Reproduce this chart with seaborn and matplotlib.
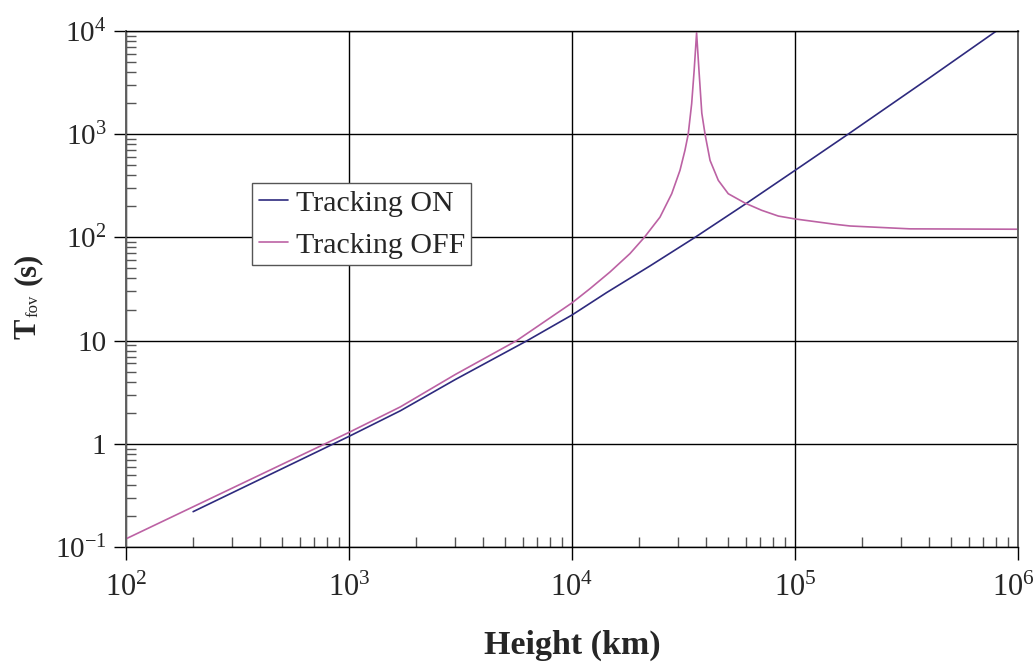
import numpy as np
import pandas as pd
import matplotlib
matplotlib.use("Agg")
import matplotlib.pyplot as plt
import matplotlib.transforms as mtransforms
import seaborn as sns
from matplotlib.ticker import FixedLocator, FixedFormatter, NullFormatter

# ---- data ----
H_on = [200, 1000, 1700, 3000, 6300, 10000, 14300, 22400, 35600, 60800,
        100000, 173000, 400000, 800000, 1000000]
T_on = [0.22, 1.18, 2.09, 4.2, 10, 17.7, 29.2, 53, 100, 215,
        446, 1000, 3500, 10000, 14400]

H_off = [100, 1000, 1700, 3000, 5650, 10000, 12050, 14800, 18200, 21100,
         24800, 28000, 30500, 32100, 33200, 34400, 35300, 36200, 37100,
         38200, 39500, 41600, 45300, 50200, 59700, 70900, 84200, 100000,
         151000, 176600, 328000, 1000000]
T_off = [0.12, 1.29, 2.28, 4.7, 10, 23.2, 31.9, 46.2, 69.7, 100,
         157, 265, 447, 697, 1000, 1970, 4150, 9600, 4150,
         1600, 1000, 557, 357, 265, 215, 183, 161, 151,
         134, 129, 121, 120]

series_names = ["Tracking ON", "Tracking OFF"]
x_ticks = [1e2, 1e3, 1e4, 1e5, 1e6]
x_ticklabels = ["$10^{2}$", "$10^{3}$", "$10^{4}$", "$10^{5}$", "$10^{6}$"]
y_ticks = [1e-1, 1, 10, 1e2, 1e3, 1e4]
y_ticklabels = ["$10^{-1}$", "1", "10", "$10^{2}$", "$10^{3}$", "$10^{4}$"]
x_label = "Height (km)"
y_label_parts = ["T", "fov", "(s)"]

df = pd.concat([
    pd.DataFrame({"Height": H_on, "T": T_on, "Mode": series_names[0]}),
    pd.DataFrame({"Height": H_off, "T": T_off, "Mode": series_names[1]}),
], ignore_index=True)

sns.set_style("white")
plt.rcParams["font.family"] = ["Liberation Serif", "DejaVu Serif"]
plt.rcParams["mathtext.fontset"] = "custom"
plt.rcParams["mathtext.rm"] = "Liberation Serif"
plt.rcParams["mathtext.it"] = "Liberation Serif:italic"
plt.rcParams["mathtext.bf"] = "Liberation Serif:bold"

W, Hpx = 1036, 662
fig = plt.figure(figsize=(W / 100, Hpx / 100), dpi=100)
ax = fig.add_axes([126 / W, 1 - 547 / Hpx, (1018 - 126) / W, (547 - 31) / Hpx])

palette = {series_names[0]: "#2E2A7E", series_names[1]: "#BC62A4"}
sns.lineplot(data=df, x="Height", y="T", hue="Mode", palette=palette,
             estimator=None, sort=True, linewidth=1.2, ax=ax)

ax.set_xscale("log")
ax.set_yscale("log")
ax.set_xlim(1e2, 1e6)
ax.set_ylim(1e-1, 1e4)

ax.xaxis.set_major_locator(FixedLocator(x_ticks))
ax.xaxis.set_major_formatter(FixedFormatter(x_ticklabels))
ax.yaxis.set_major_locator(FixedLocator(y_ticks))
ax.yaxis.set_major_formatter(FixedFormatter(y_ticklabels))
ax.xaxis.set_minor_formatter(NullFormatter())
ax.yaxis.set_minor_formatter(NullFormatter())

ax.tick_params(which="major", direction="out", length=9, width=1.0,
               color="black", labelsize=21, pad=5,
               bottom=True, left=True, top=False, right=False)
ax.tick_params(axis="x", which="major", labelsize=22, pad=10)
ax.tick_params(which="minor", direction="in", length=7, width=1.0,
               color="#555555", bottom=True, left=True, top=False, right=False)

ax.grid(True, which="major", color="black", linewidth=1.0)
ax.grid(False, which="minor")
for side in ["top", "bottom"]:
    ax.spines[side].set_color("black")
    ax.spines[side].set_linewidth(1.0)
for side in ["left", "right"]:
    ax.spines[side].set_color("#606060")
    ax.spines[side].set_linewidth(1.4)

ax.set_xlabel("")
ax.set_ylabel("")
fig.text(572 / W, 1 - 654 / Hpx, x_label, ha="center", va="baseline",
         fontsize=24.5, fontweight="bold")

# y label built from pieces (bold T, small subscript, bold (s))
def ytext(px, py, s, size, weight):
    fig.text(px / W, 1 - py / Hpx, s, rotation=90, rotation_mode="anchor",
             ha="left", va="baseline", fontsize=size, fontweight=weight)

ytext(35, 339, y_label_parts[0], 22, "bold")
ytext(37, 317, y_label_parts[1], 12, "normal")
ytext(35, 285, y_label_parts[2], 22, "bold")

leg = ax.legend(loc="upper left", bbox_to_anchor=(0.1413, 0.705),
                borderaxespad=0, fontsize=21.5, frameon=True, fancybox=False,
                framealpha=1, edgecolor="#555555", handlelength=0.97,
                handletextpad=0.27, labelspacing=0.5, borderpad=0.22,
                title=None)
leg.get_frame().set_linewidth(1.0)
for line in leg.get_lines():
    line.set_linewidth(1.2)

# shift the last x tick label slightly left, as in the reference
last = ax.xaxis.get_major_ticks()[-1].label1
last.set_transform(last.get_transform() +
                   mtransforms.ScaledTranslation(-5 / 100, 0, fig.dpi_scale_trans))

fig.savefig("out.png", dpi=100)
